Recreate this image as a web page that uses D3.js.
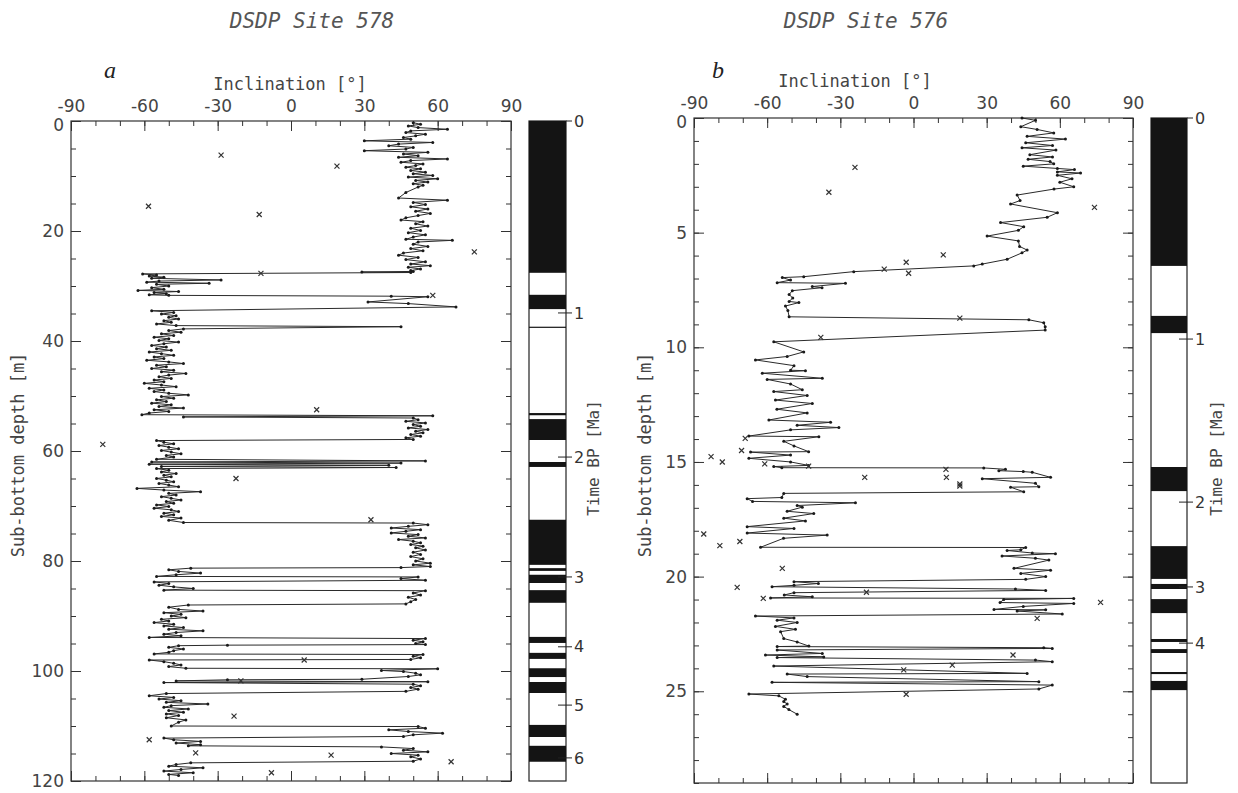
<!DOCTYPE html>
<html>
<head>
<meta charset="utf-8">
<script src="https://cdn.jsdelivr.net/npm/d3@7"></script>
<style>
  body { margin: 0; background: #fff; }
  svg text { fill: #444; }
</style>
</head>
<body>
<div id="chart"></div>
<script>
// inclination axis, shared by both sites
const inclDomain = [-90, 90];
const inclTicks = [-90, -60, -30, 0, 30, 60, 90];

// ---- DSDP Site 578 ----  [depth m, inclination deg]
const site578 = [
  [0.3,50],[0.6,53],[0.9,48],[1.2,52],[1.5,64],[1.8,49],[2.1,47],[2.4,55],[2.7,51],[3.0,46],
  [3.3,49],[3.6,30],[3.9,58],[4.2,44],[4.5,40],[4.8,50],[5.1,47],[5.4,30],[5.7,56],[6.0,46],
  [6.3,52],[6.6,44],[6.9,64],[7.2,49],[7.5,45],[7.8,54],[8.1,51],[8.4,47],[8.7,53],[9.0,49],
  [9.3,55],[9.6,50],[9.9,58],[10.2,48],[10.5,60],[10.8,51],[11.1,56],[11.4,50],[11.7,54],[12.0,52],
  [13.0,47],[14.0,44],[14.4,64],[14.8,50],[15.2,55],[15.6,49],[16.0,56],[16.4,51],[16.8,57],[17.2,52],
  [17.6,47],[18.0,45],[18.3,54],[18.7,51],[19.1,56],[19.5,49],[19.9,53],[20.3,48],[20.7,55],[21.1,50],
  [21.5,47],[21.7,66],[22.0,52],[22.4,50],[22.8,56],[23.2,49],[23.6,54],[24.0,46],[24.4,44],[24.8,52],
  [25.2,47],[25.6,55],[26.0,49],[26.3,57],[26.6,48],[26.9,53],[27.2,49],[27.35,50],[27.45,29],[27.55,49],
  [27.8,-60.7],[28.0,-55],[28.2,-58],[28.4,-52],[28.6,-57],[28.9,-28.6],[29.1,-54],[29.3,-59],[29.5,-33.5],[29.7,-55],
  [30.0,-50],[30.3,-57],[30.6,-52],[30.8,-62.6],[31.0,-46],[31.2,-56],[31.4,-51],[31.6,-58],[31.7,-50],
  [31.85,41],[31.95,56],[32.9,31.5],[33.2,48],[33.8,67.5],[34.5,-57],
  [34.8,-48],[35.1,-53],[35.4,-47],[35.7,-50],[36.0,-46],[36.3,-52],[36.6,-49],[36.9,-55],[37.2,-47],[37.4,45],
  [37.8,-44],[38.1,-50],[38.4,-45],[38.7,-53],[39.0,-48],[39.3,-56],[39.6,-50],[39.9,-54],[40.2,-46],[40.5,-52],
  [40.8,-57],[41.1,-51],[41.4,-55],[41.7,-49],[42.0,-58],[42.3,-53],[42.6,-48],[42.9,-56],[43.2,-52],[43.5,-59],
  [43.8,-50],[44.1,-44],[44.4,-55],[44.7,-51],[45.0,-57],[45.3,-48],[45.6,-53],[45.9,-43],[46.2,-50],[46.5,-54],
  [46.8,-49],[47.1,-56],[47.4,-52],[47.7,-60],[48.0,-53],[48.3,-47],[48.6,-58],[48.9,-52],[49.2,-56],[49.5,-50],
  [49.8,-42],[50.1,-53],[50.4,-48],[50.7,-55],[51.0,-51],[51.3,-57],[51.6,-49],[51.9,-54],[52.2,-44],[52.5,-56],
  [52.8,-50],[53.1,-58],[53.4,-61],[53.6,58],[53.8,-44],[54.0,50],[54.3,52],[54.6,47],[54.9,55],[55.2,50],
  [55.5,53],[55.8,48],[56.1,56],[56.4,51],[56.7,54],[57.0,49],[57.3,53],[57.6,47],[57.9,50],[58.1,-55],
  [58.4,-52],[58.7,-48],[59.0,-54],[59.3,-50],[59.6,-46],[59.9,-53],[60.2,-49],[60.5,-45],[60.8,-51],[61.1,-48],
  [61.5,-55],[61.8,55],[62.0,-57],[62.2,45],[62.4,-58],[62.6,40],[62.8,-53],[63.0,43],[63.2,-55],
  [63.5,-50],[63.8,-53],[64.1,-47],[64.4,-52],[64.7,-49],[65.0,-55],[65.3,-51],[65.6,-48],[65.9,-54],[66.2,-50],
  [66.5,-46],[66.8,-63],[67.1,-52],[67.4,-37],[67.7,-50],[68.0,-47],[68.3,-53],[68.6,-49],[68.9,-45],[69.2,-51],
  [69.5,-48],[69.8,-55],[70.1,-50],[70.4,-56],[70.7,-49],[71.0,-46],[71.3,-52],[71.6,-48],[71.9,-53],[72.2,-45],
  [72.6,-50],[73.0,-44],
  [73.1,50],[73.4,56],[73.7,48],[74.0,41],[74.3,53],[74.6,47],[74.9,41],[75.2,52],[75.5,48],[75.8,55],
  [76.1,44],[76.4,50],[76.7,53],[77.0,49],[77.3,54],[77.6,51],[78.0,55],[78.4,50],[78.8,53],[79.2,49],
  [79.6,54],[80.0,51],[80.4,57],[80.7,50],[81.0,57],[81.2,45],[81.3,-41],[81.6,-50],[81.9,-46],[82.2,-37],
  [82.5,-47],[82.8,-55],[82.9,52],[83.2,45],[83.5,55],[83.8,-56],[84.1,-50],[84.4,-54],[84.7,-48],[85.0,-40],
  [85.3,-52],[85.4,55],[85.8,50],[86.2,53],[86.6,48],[87.0,51],[87.4,49],[87.8,47],[88.0,-42],[88.4,-50],
  [88.8,-46],[89.1,-36],[89.4,-52],[89.7,-45],[90.0,-49],[90.3,-43],[90.6,-53],[90.9,-50],[91.2,-56],[91.5,-48],
  [91.8,-52],[92.1,-44],[92.4,-50],[92.7,-36],[93.0,-47],[93.3,-52],[93.6,-45],[93.9,-58],[94.1,55],[94.4,50],
  [94.7,54],[95.0,51],[95.2,55],[95.3,-26],[95.4,-46],[95.7,-50],[96.0,-44],[96.3,-48],[96.6,-50],[96.9,-56],
  [97.0,54],[97.3,50],[97.6,53],[97.9,49],[98.0,-58],[98.3,-52],[98.6,-48],[98.9,-45],[99.2,-50],[99.5,-43],
  [99.6,60],[99.9,37],[100.1,46],[100.4,51],[100.7,53],[101.0,48],[101.5,29],[101.6,-26],[101.8,-47],[101.95,56],
  [102.1,-52],[102.4,50],[102.7,53],[103.0,49],[103.3,52],[103.7,47],[104.1,-51],[104.5,-58],[104.8,-48],[105.1,-54],
  [105.4,-45],[105.7,-51],[106.0,-34],[106.3,-49],[106.6,-52],[106.9,-42],[107.2,-50],[107.5,-44],[107.8,-51],[108.1,-46],
  [108.5,-51],[108.9,-43],[109.3,-46],[110.0,-49],[110.1,52],[110.4,55],[110.7,40],[111.0,48],[111.3,62],[111.6,50],
  [111.9,46],[112.2,-52],[112.5,-48],[112.8,-37],[113.1,-47],[113.4,-37],[113.6,-42],[113.8,37],[114.1,50],[114.4,46],
  [114.7,56],[115.0,41],[115.3,52],[115.6,49],[116.0,53],[116.4,50],[116.7,-41],[117.0,-47],[117.3,-50],[117.6,-36],
  [117.9,-45],[118.2,-52],[118.5,-40],[118.8,-50],[119.0,-46]
];
const site578Rejected = [
  [6.2,-28.6],[8.2,18.8],[15.5,-58.3],[17.0,-13],[23.8,75],[27.7,-12.3],[31.7,58],[52.5,10.5],
  [58.8,-77],[65.0,-22.5],[72.5,32.7],[98.0,5.4],[101.8,-20.5],[108.2,-23.3],[112.5,-58],
  [114.9,-39],[115.3,16.4],[116.5,65.5],[118.5,-8]
];
const site578DepthTicks = [0, 20, 40, 60, 80, 100, 120];
const site578Normal = [ // depth intervals of normal polarity (black)
  [0,27.6],[31.6,34.2],[37.4,37.6],[53.1,53.5],[54.2,58.0],[62.0,62.9],[72.5,80.7],[81.3,81.8],
  [82.5,84.0],[85.3,87.6],[93.8,94.9],[96.7,97.8],[99.5,101.1],[102.0,104.0],[109.8,112.0],[113.6,116.5]
];
const site578Ages = [[0,0],[1,34.9],[2,61.1],[3,82.9],[4,95.6],[5,106.2],[6,115.8]]; // [Ma, depth]

// ---- DSDP Site 576 ----
const site576 = [
  [0.0,44.5],[0.1,50],[0.38,44],[0.5,50.7],[0.65,57.5],[0.8,46.6],[0.92,62.3],[1.08,46],[1.2,57],[1.3,44.5],
  [1.4,58.4],[1.6,47.7],[1.7,57],[1.8,47],[1.9,56],[2.0,57.5],[2.1,45],[2.2,59],[2.25,66],[2.35,59],
  [2.4,68.5],[2.5,59],[2.65,65],[2.8,60],[3.0,65.7],[3.1,57.6],[3.36,42.5],[3.6,43.7],[3.75,39.8],[4.13,59],
  [4.33,54.8],[4.56,35.7],[4.74,45.2],[4.9,43],[5.15,30.2],[5.36,43],[5.6,43.5],[5.76,46.6],[5.88,44.5],[6.16,38.4],
  [6.37,28.2],[6.45,24.7],[6.7,-24.5],[6.92,-45],[6.96,-53.8],[7.07,-50.4],[7.18,-55.9],[7.21,-27.9],[7.35,-41.5],[7.4,-37.5],
  [7.53,-49.7],[7.7,-51],[7.85,-49.5],[8.0,-51],[8.05,-47],[8.2,-52.5],[8.4,-51.5],[8.67,-51],[8.8,47.3],[8.93,53.4],
  [9.1,54],[9.25,54],[9.76,-57.3],[10.2,-45],[10.4,-51.8],[10.55,-64.8],[10.8,-49],[11.0,-50.4],[11.02,-44.3],[11.13,-62],
  [11.35,-37.4],[11.4,-60],[11.6,-50.4],[11.85,-45.6],[11.93,-57.3],[12.1,-43.6],[12.3,-56.6],[12.45,-41.5],[12.7,-56],[12.86,-43.6],
  [13.17,-59.3],[13.27,-34],[13.4,-47.7],[13.5,-30.6],[13.6,-50.4],[13.87,-67.5],[13.9,-38.8],[14.1,-53.2],[14.3,-49],[14.55,-43],
  [14.57,-66.8],[14.7,-50.4],[14.84,-67.5],[15.0,-50.4],[15.15,-43],[15.2,-57.3],[15.25,-54],
  [15.26,28.8],[15.32,37.7],[15.38,35],[15.42,45],[15.45,48.7],[15.67,56.2],[15.73,28.2],[15.93,50],[16.08,51.4],[16.1,39.8],
  [16.3,45.2],[16.37,-53.2],[16.55,-54],[16.6,-68.2],[16.72,-66],[16.78,-23.8],[16.9,-47.7],[16.97,-45.6],[17.15,-51.8],[17.25,-40.9],
  [17.45,-53.2],[17.57,-44.3],[17.82,-68.2],[17.9,-49],[18.1,-68.2],[18.19,-35.4],[18.33,-53.3],[18.72,-62.7],
  [18.73,46],[18.83,44],[18.86,38.4],[18.97,48.7],[19.0,58.2],[19.1,36.3],[19.2,50],[19.28,55.5],[19.64,41.2],[19.72,56.2],
  [19.86,44],[20.0,54.2],[20.12,46],[20.22,-49],[20.3,-39],[20.38,-49],[20.44,-58],[20.54,41.8],[20.6,54.2],[20.7,-49],
  [20.8,-53],[20.88,-41.5],[20.93,-58.6],[20.95,65.7],[21.0,37],[21.13,35.5],[21.17,65.7],[21.3,45],[21.43,33],[21.45,54.2],
  [21.5,42.5],[21.63,61],[21.72,-64.8],[21.8,-49],[21.9,-55.9],[22.0,-47.7],[22.17,-56.6],[22.3,-48.4],[22.4,-54.5],[22.7,-53.2],
  [22.85,-47.7],[23.03,-42.9],[23.05,-55.9],[23.1,53.4],[23.13,56.9],[23.2,-55.9],[23.35,-37.4],[23.42,-60.7],[23.5,-36.8],[23.53,-55.9],
  [23.64,50],[23.71,56.9],[23.9,-57.3],[24.22,46.6],[24.25,-51.8],[24.36,-43.6],[24.58,51.4],[24.61,-58],[24.73,56.9],[24.9,51.4],
  [25.12,-67.5],[25.2,-55.2],[25.35,-52.5],[25.45,-53.2],[25.55,-51.8],[25.66,-53.2],[25.8,-51.1],[26.0,-47.7]
];
const site576Rejected = [
  [2.15,-24],[3.24,-34.7],[3.9,74.2],[5.97,12.2],[6.29,-3],[6.59,-12],[6.77,-2],[8.73,19],[9.57,-38],
  [13.97,-69],[14.5,-70.5],[14.77,-83],[15.0,-78.4],[15.08,-61],[15.18,-43],[15.32,13.3],[15.67,13.5],
  [15.67,-20],[15.96,19],[16.05,19],[18.14,-86],[18.47,-71.2],[18.65,-79.4],[19.64,-53.8],[20.47,-72.3],
  [20.68,-19.3],[20.95,-61.6],[21.12,76.7],[21.82,50.7],[23.42,40.8],[23.86,15.9],[24.07,-4],[25.13,-3]
];
const site576DepthTicks = [0, 5, 10, 15, 20, 25];
const site576Normal = [
  [0,6.45],[8.63,9.38],[15.22,16.27],[18.67,20.1],[20.32,20.54],[20.98,21.59],
  [22.72,22.85],[23.16,23.33],[24.16,24.25],[24.55,24.95]
];
const site576Ages = [[0,0],[1,9.64],[2,16.75],[3,20.45],[4,22.9]];

const svg = d3.select("#chart").append("svg")
  .attr("width", 1238)
  .attr("height", 793);

const monoFont = "'DejaVu Sans Mono', monospace";
const sansFont = "'DejaVu Sans', sans-serif";

// titles
svg.append("text").attr("x", 312).attr("y", 28).attr("text-anchor", "middle")
  .attr("font-family", monoFont).attr("font-style", "italic").attr("font-size", 21)
  .style("fill", "#555").text("DSDP Site 578");
svg.append("text").attr("x", 866).attr("y", 28).attr("text-anchor", "middle")
  .attr("font-family", monoFont).attr("font-style", "italic").attr("font-size", 21)
  .style("fill", "#555").text("DSDP Site 576");

function drawPanel(p) {
  var x = d3.scaleLinear().domain(inclDomain).range([p.left, p.right]);
  var y = d3.scaleLinear().domain([0, p.maxDepth]).range([p.top, p.bottom]);
  var g = svg.append("g");

  // panel letter
  g.append("text").attr("x", p.letterX).attr("y", 78)
    .attr("font-family", "'Liberation Serif', serif").attr("font-style", "italic")
    .attr("font-size", 24).style("fill", "#222").text(p.letter);

  // minor ticks, all four sides
  var minorX = d3.range(-90, 91, 10), minorY = d3.range(0, p.maxDepth + 0.01, p.minorStep);
  g.append("g").attr("transform", "translate(0," + p.top + ")")
    .call(d3.axisTop(x).tickValues(minorX).tickSize(-5).tickFormat(""));
  g.append("g").attr("transform", "translate(0," + p.bottom + ")")
    .call(d3.axisBottom(x).tickValues(minorX).tickSize(-5).tickFormat(""));
  g.append("g").attr("transform", "translate(" + p.left + ",0)")
    .call(d3.axisLeft(y).tickValues(minorY).tickSize(-5).tickFormat(""));
  g.append("g").attr("transform", "translate(" + p.right + ",0)")
    .call(d3.axisRight(y).tickValues(minorY).tickSize(-5).tickFormat(""));

  // major ticks + labels
  g.append("g").attr("class", "axis top").attr("transform", "translate(0," + p.top + ")")
    .call(d3.axisTop(x).tickValues(inclTicks).tickSize(-10).tickPadding(9).tickFormat(d => String(d)));
  g.append("g").attr("transform", "translate(0," + p.bottom + ")")
    .call(d3.axisBottom(x).tickValues(inclTicks).tickSize(-10).tickFormat(""));
  g.append("g").attr("class", "axis left").attr("transform", "translate(" + p.left + ",0)")
    .call(d3.axisLeft(y).tickValues(p.depthTicks).tickSize(-10).tickPadding(7).tickFormat(d => String(d)));
  g.append("g").attr("transform", "translate(" + p.right + ",0)")
    .call(d3.axisRight(y).tickValues(p.depthTicks).tickSize(-10).tickFormat(""));

  g.selectAll(".domain").remove();
  g.selectAll(".tick line").attr("stroke", "#333").attr("stroke-width", 1);
  g.selectAll(".axis text").attr("font-family", sansFont).attr("font-size", 17).style("fill", "#444");
  // the depth label at 0 sits a little lower, clear of the -90 label
  g.selectAll(".axis.left .tick text").filter(d => d === 0).attr("dy", "0.55em");

  g.append("rect").attr("x", p.left).attr("y", p.top)
    .attr("width", p.right - p.left).attr("height", p.bottom - p.top)
    .attr("fill", "none").attr("stroke", "#333").attr("stroke-width", 1.2);

  // axis titles
  g.append("text").attr("x", p.inclTitleX).attr("y", p.top - 31).attr("text-anchor", "middle")
    .attr("font-family", monoFont).attr("font-size", 17).text("Inclination [°]");
  g.append("text").attr("transform", "translate(" + p.depthTitleX + ",455) rotate(-90)")
    .attr("text-anchor", "middle").attr("font-family", monoFont).attr("font-size", 17)
    .text("Sub-bottom depth [m]");

  // inclination record
  var line = d3.line().x(d => x(d[1])).y(d => y(d[0]));
  g.append("path").datum(p.data).attr("d", line)
    .attr("fill", "none").attr("stroke", "#2a2a2a").attr("stroke-width", 1);
  g.selectAll(".pt").data(p.data).enter().append("circle")
    .attr("class", "pt").attr("cx", d => x(d[1])).attr("cy", d => y(d[0]))
    .attr("r", 1.5).attr("fill", "#1a1a1a");
  g.selectAll(".rej").data(p.rejected).enter().append("path")
    .attr("class", "rej")
    .attr("transform", d => "translate(" + x(d[1]) + "," + y(d[0]) + ")")
    .attr("d", "M-2.5,-2.5L2.5,2.5M-2.5,2.5L2.5,-2.5")
    .attr("stroke", "#333").attr("stroke-width", 1.2);

  // polarity column
  var c = g.append("g");
  c.append("rect").attr("x", p.colLeft).attr("y", y(0))
    .attr("width", p.colWidth).attr("height", y(p.maxDepth) - y(0))
    .attr("fill", "#fff").attr("stroke", "#222").attr("stroke-width", 1.2);
  c.selectAll(".norm").data(p.normal).enter().append("rect")
    .attr("class", "norm").attr("x", p.colLeft).attr("y", d => y(d[0]))
    .attr("width", p.colWidth).attr("height", d => Math.max(1.2, y(d[1]) - y(d[0])))
    .attr("fill", "#141414");
  var colRight = p.colLeft + p.colWidth;
  c.selectAll(".age").data(p.ages).enter().append("line")
    .attr("x1", d => d[0] === 0 ? colRight : colRight - 8).attr("x2", colRight + 6)
    .attr("y1", d => y(d[1])).attr("y2", d => y(d[1]))
    .attr("stroke", "#222").attr("stroke-width", 1);
  c.selectAll(".agel").data(p.ages).enter().append("text")
    .attr("x", colRight + 8).attr("y", d => y(d[1])).attr("dy", "0.35em")
    .attr("font-family", sansFont).attr("font-size", 16).style("fill", "#333")
    .text(d => d[0]);
  c.append("text").attr("transform", "translate(" + p.timeTitleX + ",458) rotate(-90)")
    .attr("text-anchor", "middle").attr("font-family", monoFont).attr("font-size", 16)
    .text("Time BP [Ma]");
}

drawPanel({
  letter: "a", letterX: 104,
  left: 71, right: 511, top: 121, bottom: 781, maxDepth: 120, minorStep: 5,
  depthTicks: site578DepthTicks, data: site578, rejected: site578Rejected,
  normal: site578Normal, ages: site578Ages,
  colLeft: 529, colWidth: 37,
  inclTitleX: 290, depthTitleX: 24, timeTitleX: 599
});
drawPanel({
  letter: "b", letterX: 712,
  left: 694, right: 1133, top: 118, bottom: 783, maxDepth: 29, minorStep: 1,
  depthTicks: site576DepthTicks, data: site576, rejected: site576Rejected,
  normal: site576Normal, ages: site576Ages,
  colLeft: 1151, colWidth: 36,
  inclTitleX: 855, depthTitleX: 651, timeTitleX: 1222
});
</script>
</body>
</html>
